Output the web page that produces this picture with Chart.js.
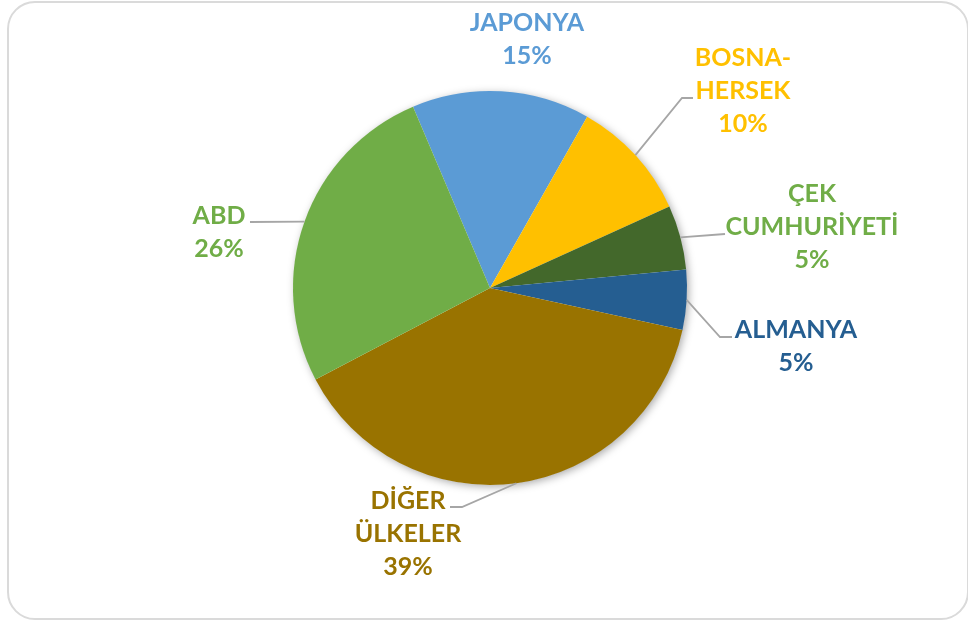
<!DOCTYPE html>
<html>
<head>
<meta charset="utf-8">
<script src="https://cdn.jsdelivr.net/npm/chart.js@4.4.1/dist/chart.umd.min.js"></script>
<style>
  html, body { margin: 0; padding: 0; background: #fff; overflow: hidden; }
  #frame {
    position: absolute; left: 7px; top: 1px; width: 962px; height: 619px;
    border: 2px solid #dadada; border-radius: 28px; box-sizing: border-box;
  }
  #wrap { position: absolute; left: 0; top: 0; width: 968px; height: 623px; }
</style>
</head>
<body>
<div id="frame"></div>
<div id="wrap"><canvas id="pie"></canvas></div>
<script>
/* ── DATA ── */
var labels = ['JAPONYA', 'BOSNA-HERSEK', 'ÇEK CUMHURİYETİ', 'ALMANYA', 'DİĞER ÜLKELER', 'ABD'];
var labelLines = [['JAPONYA'], ['BOSNA-', 'HERSEK'], ['ÇEK', 'CUMHURİYETİ'], ['ALMANYA'], ['DİĞER', 'ÜLKELER'], ['ABD']];
var values = [14.6, 10.0, 5.3, 4.9, 38.9, 26.3];

/* ── STYLE ── */
var sliceColors = ['#5B9BD5', '#FFC000', '#43682B', '#255E91', '#997300', '#70AD47'];
var textColors  = ['#5B9BD5', '#FFC000', '#70AD47', '#255E91', '#997300', '#70AD47'];

// label block centre and leader points, offsets from pie centre (px)
var labelLayout = [
  { dx: 37,   dy: -249, leader: null },
  { dx: 253,  dy: -197, leader: [[192, -190], [203, -190]] },
  { dx: 322,  dy: -61,  leader: [[235, -54]] },
  { dx: 306,  dy: 58,   leader: [[230, 49], [242, 49]] },
  { dx: -82,  dy: 246,  leader: [[-28, 219], [-40, 219]] },
  { dx: -271, dy: -56,  leader: [[-240, -66]] }
];
var LINE_H = 33;
var FONT = 'bold 25px Lato, "Open Sans", sans-serif';

function pct(i) {
  var total = 0;
  for (var k = 0; k < values.length; k++) total += values[k];
  return Math.round(values[i] / total * 100) + '%';
}

/* ── SHADOW UNDER PIE ── */
var shadowPlugin = {
  id: 'pieShadow',
  beforeDatasetsDraw: function(chart) {
    var arc = chart.getDatasetMeta(0).data[0];
    if (!arc) return;
    var ctx = chart.ctx;
    ctx.save();
    ctx.shadowColor = 'rgba(0,0,0,0.35)';
    ctx.shadowBlur = 9;
    ctx.shadowOffsetX = 2;
    ctx.shadowOffsetY = 2;
    ctx.fillStyle = '#ffffff';
    ctx.beginPath();
    ctx.arc(arc.x, arc.y, arc.outerRadius - 0.5, 0, Math.PI * 2);
    ctx.fill();
    ctx.restore();
  }
};

/* ── OUTSIDE LABELS + LEADERS ── */
var outLabelPlugin = {
  id: 'outLabels',
  afterDatasetsDraw: function(chart) {
    var ctx = chart.ctx;
    var arcs = chart.getDatasetMeta(0).data;
    ctx.save();
    for (var i = 0; i < arcs.length; i++) {
      var a = arcs[i];
      var lay = labelLayout[i];
      var mid = (a.startAngle + a.endAngle) / 2;

      if (lay.leader) {
        ctx.strokeStyle = '#a6a6a6';
        ctx.lineWidth = 1.8;
        ctx.beginPath();
        ctx.moveTo(a.x + Math.cos(mid) * a.outerRadius, a.y + Math.sin(mid) * a.outerRadius);
        for (var p = 0; p < lay.leader.length; p++) {
          ctx.lineTo(a.x + lay.leader[p][0], a.y + lay.leader[p][1]);
        }
        ctx.stroke();
      }

      var lines = labelLines[i].concat([pct(i)]);
      var cx = a.x + lay.dx;
      var top = a.y + lay.dy - (lines.length - 1) * LINE_H / 2;
      ctx.font = FONT;
      ctx.fillStyle = textColors[i];
      ctx.textAlign = 'center';
      ctx.textBaseline = 'middle';
      for (var l = 0; l < lines.length; l++) {
        ctx.fillText(lines[l], cx, top + l * LINE_H);
      }
    }
    ctx.restore();
  }
};

/* ── CHART ── */
var ctx = document.getElementById('pie').getContext('2d');
new Chart(ctx, {
  type: 'pie',
  data: {
    labels: labels,
    datasets: [{
      data: values,
      backgroundColor: sliceColors,
      borderWidth: 0
    }]
  },
  options: {
    responsive: true,
    maintainAspectRatio: false,
    animation: false,
    rotation: -23,
    layout: { padding: { left: 292, right: 280, top: 91, bottom: 138 } },
    plugins: {
      legend: { display: false },
      tooltip: { enabled: false }
    }
  },
  plugins: [shadowPlugin, outLabelPlugin]
});
</script>
</body>
</html>
